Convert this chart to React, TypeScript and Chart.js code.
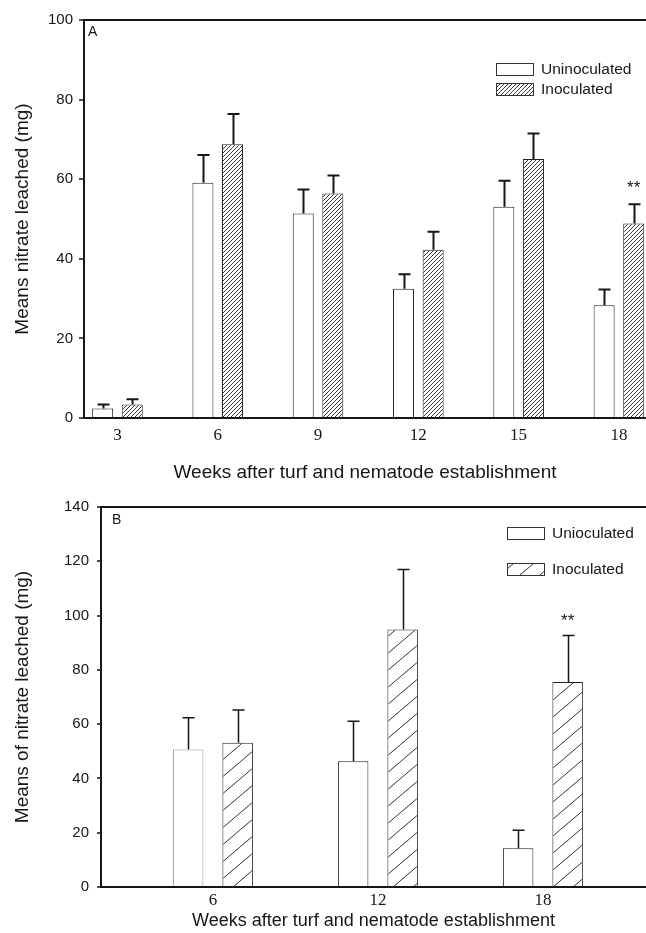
import React, { useEffect, useRef } from "react";
import { Chart, registerables } from "chart.js";
Chart.register(...registerables);

// ---- Panel A data ----
const weeksA = [3, 6, 9, 12, 15, 18];
const uninocA = [2.4, 59.1, 51.4, 32.5, 53.1, 28.3];
const uninocErrA = [1.0, 7.0, 6.0, 3.6, 6.5, 4.0];
const inocA = [3.4, 68.8, 56.4, 42.3, 65.1, 48.9];
const inocErrA = [1.3, 7.6, 4.5, 4.5, 6.4, 4.8];
const sigA = ["", "", "", "", "", "**"];
const yTicksA = [0, 20, 40, 60, 80, 100];

// ---- Panel B data ----
const weeksB = [6, 12, 18];
const uninocB = [50.7, 46.3, 14.3];
const uninocErrB = [11.7, 14.8, 6.6];
const inocB = [53.1, 94.9, 75.5];
const inocErrB = [12.1, 22.1, 17.2];
const sigB = ["", "", "**"];
const yTicksB = [0, 20, 40, 60, 80, 100, 120, 140];

const SANS = "'Liberation Sans', Arial, sans-serif";
const SERIF = "'Liberation Serif', 'Times New Roman', serif";
const INK = "#161616";

function makeHatch(ctx: CanvasRenderingContext2D, w: number, h: number, color: string, lw: number) {
  const c = document.createElement("canvas");
  c.width = w;
  c.height = h;
  const g = c.getContext("2d")!;
  g.fillStyle = "#ffffff";
  g.fillRect(0, 0, w, h);
  g.strokeStyle = color;
  g.lineWidth = lw;
  g.beginPath();
  for (const dx of [-w, 0, w]) {
    g.moveTo(dx, h);
    g.lineTo(dx + w, 0);
  }
  g.stroke();
  return ctx.createPattern(c, "repeat")!;
}

const overlayPlugin = {
  id: "overlay",
  afterDatasetsDraw(chart: any, _args: any, opts: any) {
    const { ctx } = chart;
    const y = chart.scales.y;
    ctx.save();
    ctx.strokeStyle = INK;
    ctx.lineWidth = opts.errLw;
    opts.values.forEach((vals: number[], di: number) => {
      const errs = opts.errors[di];
      const meta = chart.getDatasetMeta(di);
      meta.data.forEach((bar: any, i: number) => {
        const base = y.getPixelForValue(vals[i]);
        const top = y.getPixelForValue(vals[i] + errs[i]);
        const x = Math.round(bar.x) + 0.5;
        ctx.beginPath();
        ctx.moveTo(x, base);
        ctx.lineTo(x, top);
        ctx.moveTo(x - opts.cap / 2, top);
        ctx.lineTo(x + opts.cap / 2, top);
        ctx.stroke();
        if (di === 1 && opts.sig[i]) {
          ctx.fillStyle = INK;
          ctx.font = `${opts.sigSize}px ${SANS}`;
          ctx.textAlign = "center";
          ctx.textBaseline = "alphabetic";
          ctx.fillText(opts.sig[i], bar.x, top - opts.sigGap);
        }
      });
    });
    // panel letter
    ctx.fillStyle = INK;
    ctx.font = `14px ${SANS}`;
    ctx.textAlign = "left";
    ctx.textBaseline = "middle";
    ctx.fillText(opts.letter, chart.chartArea.left + opts.letterDx, chart.chartArea.top + opts.letterDy);
    // legend
    const L = opts.legend;
    ctx.lineWidth = 1;
    ctx.strokeStyle = "#333";
    L.items.forEach((it: any, k: number) => {
      const by = L.y + k * L.dy;
      ctx.fillStyle = it.fill;
      ctx.fillRect(L.x, by, L.w, L.h);
      ctx.strokeRect(L.x + 0.5, by + 0.5, L.w, L.h);
      ctx.fillStyle = INK;
      ctx.font = `${L.size}px ${SANS}`;
      ctx.textAlign = "left";
      ctx.textBaseline = "middle";
      ctx.fillText(it.label, L.x + L.w + L.gap, by + L.h / 2 + 1);
    });
    ctx.restore();
  },
};

function buildConfig(p: any) {
  return {
    type: "bar",
    data: {
      datasets: [
        {
          label: p.labels[0],
          data: p.weeks.map((w: number, i: number) => ({ x: w, y: p.uninoc[i] })),
          backgroundColor: "#ffffff",
          borderColor: p.uninocBorder,
          borderWidth: 1,
        },
        {
          label: p.labels[1],
          data: p.weeks.map((w: number, i: number) => ({ x: w, y: p.inoc[i] })),
          backgroundColor: p.hatch,
          borderColor: "#222",
          borderWidth: 1,
        },
      ],
    },
    options: {
      animation: false,
      responsive: false,
      events: [],
      categoryPercentage: p.catPct,
      barPercentage: p.barPct,
      layout: { padding: { top: p.padTop, left: 0, right: 0, bottom: 0 } },
      plugins: {
        legend: { display: false },
        tooltip: { enabled: false },
        overlay: {
          values: [p.uninoc, p.inoc],
          errors: [p.uninocErr, p.inocErr],
          sig: p.sig,
          errLw: p.errLw,
          cap: p.cap,
          sigSize: 17,
          sigGap: p.sigGap,
          letter: p.letter,
          letterDx: p.letterDx,
          letterDy: p.letterDy,
          legend: {
            x: p.legX,
            y: p.legY,
            dy: p.legDy,
            w: 37,
            h: 12,
            gap: 8,
            size: 15.5,
            items: [
              { label: p.labels[0], fill: "#ffffff" },
              { label: p.labels[1], fill: p.hatch },
            ],
          },
        },
      },
      scales: {
        x: {
          type: "linear",
          offset: false,
          min: p.xMin,
          max: p.xMax,
          afterBuildTicks: (s: any) => {
            s.ticks = p.weeks.map((v: number) => ({ value: v }));
          },
          afterFit: (s: any) => {
            s.height = p.xAxisH;
          },
          border: { display: true, color: INK, width: 2 },
          grid: { display: false, drawTicks: false, offset: false },
          ticks: {
            color: INK,
            font: { family: SERIF, size: 17 },
            padding: p.xTickPad,
            autoSkip: false,
            maxRotation: 0,
            callback: (v: any) => String(v),
          },
          title: {
            display: true,
            text: "Weeks after turf and nematode establishment",
            color: INK,
            font: { family: SANS, size: p.xTitleSize, lineHeight: 1.2 },
            padding: { top: 0, bottom: p.xTitlePad },
          },
        },
        y: {
          min: 0,
          max: p.yMax,
          afterBuildTicks: (s: any) => {
            s.ticks = p.yTicks.map((v: number) => ({ value: v }));
          },
          afterFit: (s: any) => {
            s.width = p.yAxisW;
          },
          border: { display: true, color: INK, width: 2 },
          grid: {
            drawOnChartArea: true,
            color: (c: any) => (c.tick && c.tick.value === p.yMax ? INK : "rgba(0,0,0,0)"),
            lineWidth: 2,
            tickColor: INK,
            tickLength: p.yTickLen,
            tickWidth: 1.5,
          },
          ticks: {
            color: INK,
            font: { family: SANS, size: 15 },
            padding: p.yTickPad,
          },
          title: {
            display: true,
            text: p.yTitle,
            color: INK,
            font: { family: SANS, size: 19, lineHeight: 1.2 },
            padding: { top: p.yTitlePad, bottom: 0 },
          },
        },
      },
    },
    plugins: [overlayPlugin],
  };
}

function Panel(props: { params: any; top: number; height: number }) {
  const ref = useRef<HTMLCanvasElement>(null);
  useEffect(() => {
    const canvas = ref.current!;
    const ctx = canvas.getContext("2d")!;
    const hatch = makeHatch(ctx, props.params.hatchW, props.params.hatchH, props.params.hatchColor, 1);
    const chart = new Chart(canvas, buildConfig({ ...props.params, hatch }) as any);
    return () => chart.destroy();
  }, []);
  return (
    <div style={{ position: "absolute", left: 0, top: props.top, width: 646, height: props.height }}>
      <canvas ref={ref} width={646} height={props.height} style={{ display: "block" }} />
    </div>
  );
}

const paramsA = {
  weeks: weeksA,
  uninoc: uninocA,
  uninocErr: uninocErrA,
  inoc: inocA,
  inocErr: inocErrA,
  sig: sigA,
  yTicks: yTicksA,
  yMax: 100,
  labels: ["Uninoculated", "Inoculated"],
  uninocBorder: "#222",
  yTitle: "Means nitrate leached (mg)",
  xMin: 2.0,
  xMax: 18.81,
  catPct: 0.59,
  barPct: 0.71,
  padTop: 20,
  xAxisH: 72,
  yAxisW: 84,
  xTickPad: 7,
  xTitleSize: 19,
  xTitlePad: 6,
  yTickLen: 5,
  yTickPad: 6,
  yTitlePad: 11,
  errLw: 2,
  cap: 12,
  sigGap: 11,
  letter: "A",
  letterDx: 4,
  letterDy: 12,
  legX: 496,
  legY: 63,
  legDy: 20,
  hatchW: 4,
  hatchH: 4,
  hatchColor: "#3a3a3a",
};

const paramsB = {
  weeks: weeksB,
  uninoc: uninocB,
  uninocErr: uninocErrB,
  inoc: inocB,
  inocErr: inocErrB,
  sig: sigB,
  yTicks: yTicksB,
  yMax: 140,
  labels: ["Unioculated", "Inoculated"],
  uninocBorder: ["#9a9a9a", "#222", "#222"],
  yTitle: "Means of nitrate leached (mg)",
  xMin: 1.93,
  xMax: 21.75,
  catPct: 0.6,
  barPct: 0.616,
  padTop: 12,
  xAxisH: 46,
  yAxisW: 101,
  xTickPad: 3,
  xTitleSize: 18,
  xTitlePad: 1,
  yTickLen: 4,
  yTickPad: 8,
  yTitlePad: 11,
  errLw: 1.5,
  cap: 12,
  sigGap: 9,
  letter: "B",
  letterDx: 11,
  letterDy: 13,
  legX: 507,
  legY: 37,
  legDy: 36,
  hatchW: 20,
  hatchH: 17,
  hatchColor: "#333",
};

export default function App() {
  return (
    <div style={{ position: "absolute", left: 0, top: 0, width: 646, height: 933, background: "#fff" }}>
      <Panel params={paramsA} top={0} height={490} />
      <Panel params={paramsB} top={490} height={443} />
    </div>
  );
}
